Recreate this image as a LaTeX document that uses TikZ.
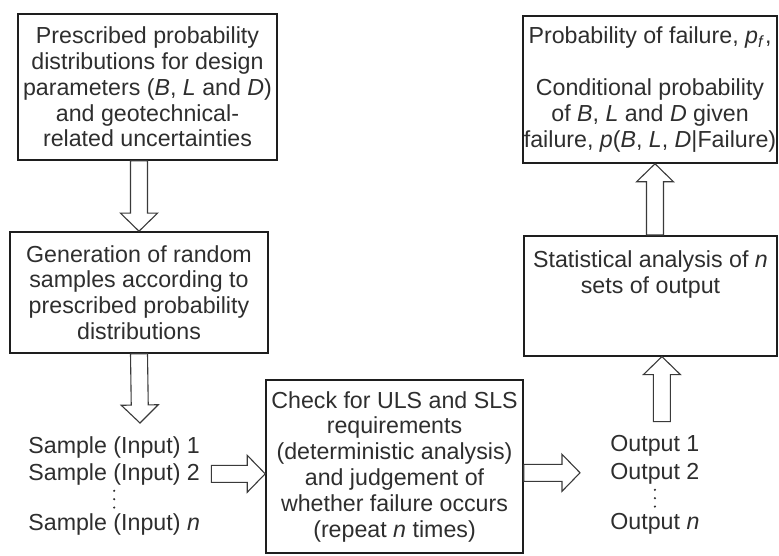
\documentclass[tikz,border=0pt]{standalone}
\usepackage{fontspec}
\setmainfont{Liberation Sans}
\usetikzlibrary{positioning, calc}
\definecolor{boxline}{HTML}{1E1E1E}
\definecolor{txtgray}{HTML}{2E2E2E}
\definecolor{arrgray}{HTML}{3A3A3A}
\newcommand\figtext{\fontsize{11.6}{12.9}\selectfont}
% hollow block arrows: half shaft, half head, head length
\newcommand\arrshaft{4.25pt}
\newcommand\arrhead{9.25pt}
\newcommand\arrlen{9pt}
\tikzset{
	procbox/.style={draw=boxline, line width=0.8pt, align=center, text=txtgray,
		inner sep=0pt, font=\figtext},
	lbl/.style={inner sep=0pt, text=txtgray, font=\figtext, text height=8.6pt, text depth=2.4pt},
	fatarr/.style={draw=arrgray, line width=0.55pt, fill=white, line join=miter}
}
\newcommand\hollowarrow[2]{%
	\coordinate (ha-s) at (#1);
	\coordinate (ha-t) at (#2);
	\coordinate (ha-n) at ($(ha-t)!\arrlen!(ha-s)$);
	\draw[fatarr] ($(ha-s)!\arrshaft!90:(ha-t)$) -- ($(ha-n)!\arrshaft!90:(ha-t)$)
		-- ($(ha-n)!\arrhead!90:(ha-t)$) -- (ha-t)
		-- ($(ha-n)!\arrhead!-90:(ha-t)$) -- ($(ha-n)!\arrshaft!-90:(ha-t)$)
		-- ($(ha-s)!\arrshaft!-90:(ha-t)$) -- cycle;
}

\begin{document}
\begin{tikzpicture}[x=0.5pt, y=-0.5pt]
	\useasboundingbox (0,0) rectangle (779,555);

	% process boxes
	\node[procbox, minimum width=129.5pt, minimum height=73pt] (prior) at (147.5,87)
		{Prescribed probability\\distributions for design\\parameters (\textit{B}, \textit{L} and \textit{D})\\and geotechnical-\\related uncertainties};
	\node[procbox, minimum width=129pt, minimum height=60.5pt] (gen) at (139,292.5)
		{Generation of random\\samples according to\\prescribed probability\\distributions};
	\node[procbox, minimum width=128.5pt, minimum height=86.5pt] (check) at (394.5,466.5)
		{Check for ULS and SLS\\requirements\\(deterministic analysis)\\and judgement of\\whether failure occurs\\(repeat \textit{n} times)};
	\node[procbox, minimum width=126.5pt, minimum height=60pt, anchor=north,
		inner ysep=7pt, text depth=24pt] (stat) at (650.5,235)
		{Statistical analysis of \textit{n}\\sets of output};
	\node[procbox, minimum width=127pt, minimum height=73.5pt] (result) at (650,89.5)
		{Probability of failure, \textit{p}\textsubscript{\textit{f}},\\[12.9pt]Conditional probability\\of \textit{B}, \textit{L} and \textit{D} given\\failure, \textit{p}(\textit{B}, \textit{L}, \textit{D}|Failure)};

	% sample and output lists
	\node[lbl, anchor=west] (s1) at (28,447) {Sample (Input) 1};
	\node[lbl, below=2pt of s1] (s2) {Sample (Input) 2};
	\node[lbl, below=14pt of s2] (sn) {Sample (Input) \textit{n}};
	\coordinate (sdots) at ($(s2.south)!0.5!(sn.north)$);

	\node[lbl, anchor=west] (o1) at (610,445) {Output 1};
	\node[lbl, below=2.5pt of o1] (o2) {Output 2};
	\node[lbl, below=14pt of o2] (on) {Output \textit{n}};
	\coordinate (odots) at ($(o2.south)!0.5!(on.north)$);

	% vertical ellipsis between 2 and n
	\foreach \c in {sdots, odots}
		\foreach \k in {-1,0,1}
			\fill[txtgray] ([yshift=\k*4.2pt]\c) circle (0.6pt);

	% free ends of the block arrows
	\coordinate (smpin) at (140,423);
	\coordinate (outin) at ([xshift=-15pt]o2.west);
	\coordinate (outup) at ([xshift=3.5pt, yshift=6pt]o1.north);
	\coordinate (statup) at ([xshift=2.25pt]stat.north);

	\hollowarrow{gen.north |- prior.south}{gen.north}
	\hollowarrow{gen.south}{smpin}
	\hollowarrow{[xshift=5.5pt]s2.east}{check.west |- s2.east}
	\hollowarrow{check.east |- o2.west}{outin}
	\hollowarrow{outup}{outup |- stat.south}
	\hollowarrow{statup}{statup |- result.south}
\end{tikzpicture}
\end{document}
